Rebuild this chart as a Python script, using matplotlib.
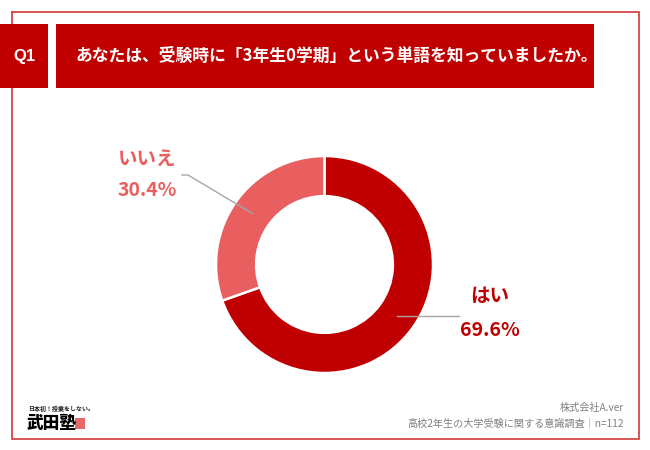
import matplotlib
matplotlib.use("Agg")
import matplotlib.pyplot as plt
from matplotlib.patches import Rectangle
import numpy as np

plt.rcParams['font.family'] = ['Noto Sans CJK JP', 'DejaVu Sans']

# ---- data ----
categories = ["はい", "いいえ"]
values = [69.6, 30.4]
pct_labels = ["69.6%", "30.4%"]
colors = ["#C00000", "#E95F5F"]
title = "あなたは、受験時に「3年生0学期」という単語を知っていましたか。"
qlabel = "Q1"
source_lines = ["株式会社A.ver", "高校2年生の大学受験に関する意識調査｜n=112"]
logo_small = "日本初！授業をしない。"
logo_big = "武田塾"

W, H = 650, 450
fig = plt.figure(figsize=(W / 100, H / 100), dpi=100)
ax = fig.add_axes([0, 0, 1, 1])

def Y(yt):
    return H - yt

# frame
frame_c = "#D64848"
ax.plot([12, 12, 639, 639, 12], [Y(12), Y(439), Y(439), Y(12), Y(12)],
        color=frame_c, lw=1.3, solid_joinstyle="miter")

# header boxes
ax.add_patch(Rectangle((0, Y(88)), 48, 64, facecolor="#C00000", edgecolor="none", zorder=3))
ax.add_patch(Rectangle((56, Y(88)), 538, 64, facecolor="#C00000", edgecolor="none", zorder=3))
ax.text(24, Y(56), qlabel, color="white", fontsize=12, fontweight="bold",
        ha="center", va="center", zorder=4, family=["Liberation Sans", "DejaVu Sans"])
ax.text(75, Y(56), title, color="white", fontsize=12.1, fontweight="bold",
        ha="left", va="center", zorder=4)

# donut
cx, cy, R = 324.5, Y(264.5), 108.5
width = 0.37
wedges, _ = ax.pie(values, colors=colors, startangle=90, counterclock=False,
                   center=(cx, cy), radius=R,
                   wedgeprops=dict(width=R * width, edgecolor="white", linewidth=1.8))
ax.set_xlim(0, W)
ax.set_ylim(0, H)
ax.set_aspect("equal")
ax.axis("off")

# leader lines and labels
rm = R * (1 - width / 2)
line_c = "#A6A6A6"
for i, w in enumerate(wedges):
    mid = np.deg2rad((w.theta1 + w.theta2) / 2)
    px, py = cx + rm * np.cos(mid), cy + rm * np.sin(mid)
    if np.cos(mid) > 0:
        ax.plot([px, 459], [py, py], color=line_c, lw=1, zorder=5)
        ax.text(490, Y(296), categories[i], color=colors[i], fontsize=14,
                fontweight="bold", ha="center", va="center")
        ax.text(490, Y(330), pct_labels[i], color=colors[i], fontsize=14,
                fontweight="bold", ha="center", va="center")
    else:
        ax.plot([px, 188, 182], [py, Y(175), Y(175)], color=line_c, lw=1, zorder=5)
        ax.text(147, Y(159), categories[i], color=colors[i], fontsize=14,
                fontweight="bold", ha="center", va="center")
        ax.text(147, Y(191), pct_labels[i], color=colors[i], fontsize=14,
                fontweight="bold", ha="center", va="center")

# source
ax.text(624, Y(408), source_lines[0], color="#808080", fontsize=7.3, ha="right", va="center")
ax.text(624, Y(424), source_lines[1], color="#808080", fontsize=7.3, ha="right", va="center")

# logo
ax.text(28, Y(409), logo_small, color="#222222", fontsize=4.3, ha="left", va="center",
        family=["Noto Sans CJK JP"], fontweight="bold")
ax.text(27, Y(423), logo_big, color="black", fontsize=12, ha="left", va="center",
        fontweight="black")
ax.add_patch(Rectangle((75, Y(429)), 10, 11, facecolor="#E05050", edgecolor="none", alpha=0.85))

fig.savefig("out.png", dpi=100)
